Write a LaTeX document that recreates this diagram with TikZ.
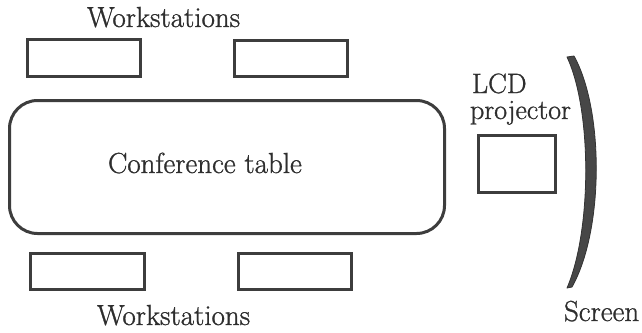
\documentclass[tikz,border=0pt]{standalone}
\usepackage{fontspec}
\newfontfamily\labelfont{Latin Modern Roman}[FakeBold=1]
\begin{document}
\begin{tikzpicture}[x=1pt,y=-1pt,
  ink/.style={draw=black!76, line width=3pt},
  desk/.style={ink, rectangle, inner sep=0pt, outer sep=0pt, fill=white},
  label/.style={anchor=base west, inner sep=0pt, outer sep=0pt, text=black!82,
    font=\labelfont\fontsize{29}{33}\selectfont}]
  \useasboundingbox (0,0) rectangle (642,332);

  % conference table
  \node[desk, rounded corners=28pt, minimum width=435pt, minimum height=133pt]
    (table) at (227,167) {};
  \node[label] (tablelabel) at (108,173) {Conference table};

  % workstations above and below the table
  \node[desk, minimum width=113pt, minimum height=37pt] (wsTL) at (84,58) {};
  \node[desk, minimum width=113pt, minimum height=36pt] (wsTR) at (291,58.5) {};
  \node[desk, minimum width=114pt, minimum height=36pt] (wsBL) at (87.5,271.5) {};
  \node[desk, minimum width=113pt, minimum height=36pt] (wsBR) at (295,271.5) {};
  \node[label] (wstop) at (87,27) {Workstations};
  \node[label] (wsbottom) at (97,325) {Workstations};

  % projector and its two-line caption
  \node[desk, minimum width=77pt, minimum height=57pt] (proj) at (517,164) {};
  \node[label, font=\labelfont\fontsize{28}{32}\selectfont, text depth=0pt]
    (lcd) at (472,93) {LCD};
  \node[label, font=\labelfont\fontsize{28}{32}\selectfont]
    (projlabel) at (470,119) {projector};

  % curved projection screen
  \fill[black!72, draw=black!80, line width=0.8pt, line join=round]
    (574,56) .. controls (604,110) and (604,230) .. (572,287)
    -- (567,288) .. controls (592,230) and (592,110) .. (567,57) -- cycle;
  \node[label] (screen) at (564,321) {Screen};
\end{tikzpicture}
\end{document}
